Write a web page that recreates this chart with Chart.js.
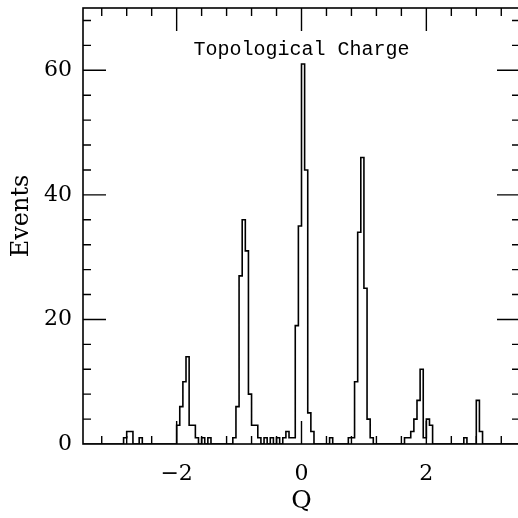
<!DOCTYPE html>
<html>
<head>
<meta charset="utf-8">
<script src="https://cdn.jsdelivr.net/npm/chart.js@4.4.1/dist/chart.umd.min.js"></script>
<style>
  html, body { margin: 0; padding: 0; background: #fff; overflow: hidden; }
  #wrap { width: 522px; height: 518px; }
</style>
</head>
<body>
<div id="wrap"><canvas id="myChart" width="522" height="518"></canvas></div>
<script>
// Histogram of the topological charge Q, bins 0.05 wide.
// Only the filled bins are listed: lower bin edge and number of events.
const binWidth = 0.05;
const binLow = [
  -2.85, -2.80, -2.75, -2.60,
  -2.00, -1.95, -1.90, -1.85, -1.80, -1.75, -1.70, -1.60, -1.50,
  -1.10, -1.05, -1.00, -0.95, -0.90, -0.85, -0.80, -0.75,
  -0.70, -0.60, -0.50, -0.40, -0.30, -0.25, -0.20, -0.15,
  -0.10, -0.05, 0.00, 0.05, 0.10, 0.15,
  0.45, 0.75, 0.80, 0.85, 0.90, 0.95, 1.00, 1.05, 1.10,
  1.65, 1.70, 1.75, 1.80, 1.85, 1.90, 1.95, 2.00, 2.05,
  2.60, 2.80, 2.85
];
const events = [
  1, 2, 2, 1,
  3, 6, 10, 14, 3, 3, 1, 1, 1,
  1, 6, 27, 36, 31, 8, 3, 3,
  1, 1, 1, 1, 1, 2, 1, 1,
  19, 35, 61, 44, 5, 2,
  1, 1, 1, 10, 34, 46, 25, 4, 1,
  1, 1, 2, 4, 7, 12, 1, 4, 3,
  1, 7, 2
];

const xRange = [-3.5, 3.5];
const yRange = [0, 70];
const xTicks = [-2, 0, 2];
const yTicks = [0, 20, 40, 60];
const xMinorStep = 0.4;
const yMinorStep = 4;

// step outline: each point holds its count until the next point
const points = [{ x: xRange[0], y: 0 }];
for (let i = 0; i < binLow.length; i++) {
  const lo = binLow[i];
  const hi = Math.round((lo + binWidth) * 100) / 100;
  points.push({ x: lo, y: events[i] });
  if (i === binLow.length - 1 || Math.abs(binLow[i + 1] - hi) > 1e-6) {
    points.push({ x: hi, y: 0 });
  }
}
points.push({ x: xRange[1], y: 0 });

const labelFont = { family: "DejaVu Serif", size: 22 };

// frame, inward ticks and the texts inside / beside the plot
const framePlugin = {
  id: "frame",
  afterDraw(chart) {
    const { ctx, chartArea: a, scales } = chart;
    const x = scales.x, y = scales.y;
    ctx.save();
    ctx.strokeStyle = "#000";
    ctx.lineWidth = 1.6;
    ctx.strokeRect(a.left, a.top, a.right - a.left, a.bottom - a.top);

    ctx.lineWidth = 1.4;
    ctx.beginPath();
    for (let k = -9; k <= 9; k++) {
      const v = k * xMinorStep;
      if (v <= xRange[0] || v >= xRange[1]) continue;
      const px = x.getPixelForValue(v);
      const len = xTicks.some((t) => Math.abs(t - v) < 1e-6) ? 23 : 8;
      ctx.moveTo(px, a.bottom);
      ctx.lineTo(px, a.bottom - len);
      ctx.moveTo(px, a.top);
      ctx.lineTo(px, a.top + len);
    }
    for (let k = 1; k * yMinorStep < yRange[1]; k++) {
      const v = k * yMinorStep;
      const py = y.getPixelForValue(v);
      const len = yTicks.includes(v) ? 23 : 8;
      ctx.moveTo(a.left, py);
      ctx.lineTo(a.left + len, py);
      ctx.moveTo(a.right, py);
      ctx.lineTo(a.right - len, py);
    }
    ctx.stroke();

    ctx.fillStyle = "#000";
    ctx.textAlign = "center";
    ctx.textBaseline = "middle";
    ctx.font = '20px "Liberation Mono"';
    ctx.fillText("Topological Charge", x.getPixelForValue(0), a.top + 42);

    ctx.translate(22, 216);
    ctx.rotate(-Math.PI / 2);
    ctx.font = '24px "DejaVu Serif"';
    ctx.fillText("Events", 0, 0);
    ctx.restore();
  },
};

new Chart(document.getElementById("myChart"), {
  type: "line",
  data: {
    datasets: [
      {
        data: points,
        stepped: true,
        borderColor: "#000",
        borderWidth: 1.6,
        pointRadius: 0,
        fill: false,
      },
    ],
  },
  options: {
    responsive: false,
    animation: false,
    devicePixelRatio: 1,
    layout: { padding: { left: 0, top: 8, right: 2, bottom: 0 } },
    plugins: { legend: { display: false }, tooltip: { enabled: false } },
    scales: {
      x: {
        type: "linear",
        min: xRange[0],
        max: xRange[1],
        grid: { display: false, drawTicks: false },
        border: { display: false },
        afterBuildTicks: (axis) => {
          axis.ticks = xTicks.map((v) => ({ value: v }));
        },
        afterFit: (axis) => {
          axis.height = 74;
          axis.paddingLeft = 0;
          axis.paddingRight = 0;
        },
        ticks: {
          color: "#000",
          font: labelFont,
          padding: 17,
          maxRotation: 0,
          callback: (v) => (v < 0 ? "\u2212" + Math.abs(v) : String(v)),
        },
        title: {
          display: true,
          text: "Q",
          color: "#000",
          font: { family: "DejaVu Serif", size: 25 },
          padding: { top: 0, bottom: 2 },
        },
      },
      y: {
        min: yRange[0],
        max: yRange[1],
        grid: { display: false, drawTicks: false },
        border: { display: false },
        afterBuildTicks: (axis) => {
          axis.ticks = yTicks.map((v) => ({ value: v }));
        },
        afterFit: (axis) => {
          axis.width = 83;
          axis.paddingTop = 0;
          axis.paddingBottom = 0;
        },
        ticks: { color: "#000", font: labelFont, padding: 11 },
      },
    },
  },
  plugins: [framePlugin],
});
</script>
</body>
</html>
